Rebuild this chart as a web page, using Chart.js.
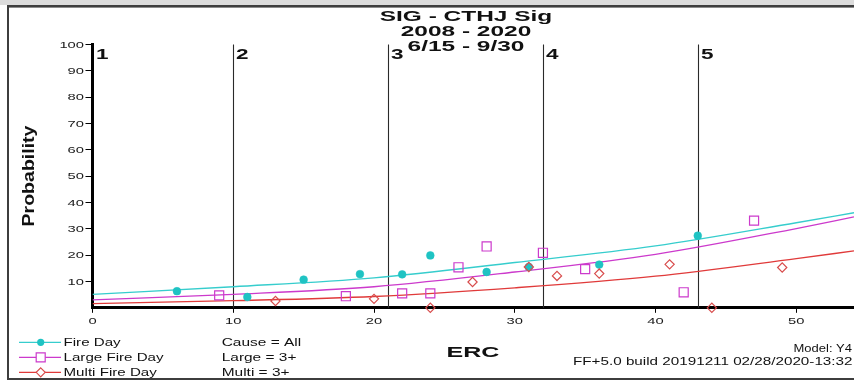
<!DOCTYPE html>
<html>
<head>
<meta charset="utf-8">
<script src="https://cdn.jsdelivr.net/npm/chart.js@4.4.1/dist/chart.umd.min.js"></script>
<style>
  html, body { margin: 0; padding: 0; background: #fff; }
  #wrap { width: 854px; height: 382px; position: relative; }
  canvas { display: block; }
</style>
</head>
<body>
<div id="wrap"><canvas id="c" width="854" height="382"></canvas></div>
<script>
// ---- chart content ----
const titleLines = ['SIG - CTHJ Sig', '2008 - 2020', '6/15 - 9/30'];
const xTitle = 'ERC';
const yTitle = 'Probability';

const ercTicks = [0, 10, 20, 30, 40, 50];
const probTicks = [10, 20, 30, 40, 50, 60, 70, 80, 90, 100];

// fire danger class breakpoints (ERC) and their labels
const classBreaks = [0, 10, 21, 32, 43];
const classLabels = ['1', '2', '3', '4', '5'];

// observed probabilities (%) per ERC value
const fireDayErc = [6, 11, 15, 19, 22, 24, 28, 31, 36, 43];
const fireDayPct = [6.3, 4.1, 10.7, 12.8, 12.7, 19.9, 13.6, 15.5, 16.4, 27.4];

const largeErc = [9, 18, 22, 24, 26, 28, 32, 35, 42, 47];
const largePct = [4.7, 4.4, 5.5, 5.5, 15.4, 23.3, 20.9, 14.7, 5.9, 33.1];

const multiErc = [13, 20, 24, 27, 31, 33, 36, 41, 44, 49];
const multiPct = [2.6, 3.4, 0, 9.8, 15.5, 12.1, 13.0, 16.5, 0, 15.3];

// fitted model curves (%)
const fitErc = [0, 10, 20, 30, 40, 50, 54.1];
const fireDayFit = [5.1, 8.0, 11.4, 17.2, 23.5, 32.3, 36.1];
const largeFit = [3.0, 5.1, 8.0, 13.6, 20.3, 30.1, 34.5];
const multiFit = [1.6, 2.7, 4.3, 7.6, 12.0, 18.7, 21.6];

const seriesNames = ['Fire Day', 'Large Fire Day', 'Multi Fire Day'];
const seriesRules = ['Cause = All', 'Large = 3+', 'Multi = 3+'];
const modelText = 'Model: Y4';
const buildText = 'FF+5.0 build 20191211 02/28/2020-13:32';

// ---- styling ----
const CYAN = '#1fc3c3';
const CYAN_LINE = '#36cdcd';
const MAGENTA = '#cc3acc';
const RED = '#e03a3a';
const RED_MARK = '#d84c4c';
const INK = '#111';
const FONT = '"Liberation Sans", Arial, sans-serif';

const pts = (xs, ys) => xs.map((x, i) => ({ x: x, y: ys[i] }));

function drawText(ctx, str, x, y, size, bold, align, sx, baseline, color) {
  ctx.save();
  ctx.font = (bold ? 'bold ' : '') + size + 'px ' + FONT;
  ctx.fillStyle = color || INK;
  ctx.textAlign = align;
  ctx.textBaseline = baseline || 'alphabetic';
  ctx.translate(x, y);
  ctx.scale(sx, 1);
  ctx.fillText(str, 0, 0);
  ctx.restore();
}

function drawMarker(ctx, kind, x, y, color) {
  ctx.save();
  ctx.lineWidth = 1.2;
  ctx.strokeStyle = color;
  ctx.fillStyle = color;
  ctx.beginPath();
  if (kind === 'circle') {
    ctx.arc(x, y, 3.6, 0, Math.PI * 2);
    ctx.fill();
  } else if (kind === 'rect') {
    ctx.fillStyle = '#fff';
    ctx.rect(x - 4.5, y - 4.5, 9, 9);
    ctx.fill();
    ctx.stroke();
  } else {
    ctx.fillStyle = '#fff';
    ctx.moveTo(x, y - 4.5);
    ctx.lineTo(x + 4.5, y);
    ctx.lineTo(x, y + 4.5);
    ctx.lineTo(x - 4.5, y);
    ctx.closePath();
    ctx.fill();
    ctx.stroke();
  }
  ctx.restore();
}

// window frame and white page
const framePlugin = {
  id: 'frame',
  beforeDraw(chart) {
    const ctx = chart.ctx;
    ctx.save();
    ctx.fillStyle = '#fff';
    ctx.fillRect(0, 0, 854, 382);
    ctx.fillStyle = '#dcdcdc';
    ctx.fillRect(0, 0, 854, 5);
    ctx.fillStyle = '#3e3e3e';
    ctx.fillRect(7, 5, 847, 2);
    ctx.fillStyle = '#8c8c8c';
    ctx.fillRect(7, 7, 847, 1);
    ctx.fillStyle = '#3e3e3e';
    ctx.fillRect(7, 5, 2, 375);
    ctx.fillRect(7, 378, 847, 2);
    ctx.restore();
  }
};

// class boundary lines with their numbers
const classPlugin = {
  id: 'classLines',
  beforeDatasetsDraw(chart) {
    const ctx = chart.ctx;
    const xs = chart.scales.x, ys = chart.scales.y;
    const top = ys.getPixelForValue(100);
    const bottom = ys.getPixelForValue(0);
    ctx.save();
    classBreaks.forEach((v, i) => {
      const px = Math.round(xs.getPixelForValue(v)) + 0.5;
      if (i > 0) {
        ctx.strokeStyle = '#2a2a2a';
        ctx.lineWidth = 1.1;
        ctx.beginPath();
        ctx.moveTo(px, top);
        ctx.lineTo(px, bottom);
        ctx.stroke();
      }
      drawText(ctx, classLabels[i], px + 2.5, 59, 15, true, 'left', 1.5);
    });
    ctx.restore();
  }
};

// titles, tick labels, legend and footer text
const textPlugin = {
  id: 'texts',
  afterDraw(chart) {
    const ctx = chart.ctx;
    const xs = chart.scales.x, ys = chart.scales.y;

    const titleBase = [21, 36, 50.5];
    titleLines.forEach((t, i) => drawText(ctx, t, 466, titleBase[i], 15, true, 'center', 1.63));

    xs.ticks.forEach(t => {
      drawText(ctx, String(t.value), xs.getPixelForValue(t.value), 324, 9.5, false, 'center', 1.55, 'alphabetic', '#1a1a1a');
    });
    ys.ticks.forEach(t => {
      drawText(ctx, String(t.value), 84, ys.getPixelForValue(t.value) + 0.5, 9.5, false, 'right', 1.55, 'middle', '#1a1a1a');
    });

    // y axis title
    ctx.save();
    ctx.font = 'bold 16px ' + FONT;
    ctx.fillStyle = INK;
    ctx.textAlign = 'center';
    ctx.textBaseline = 'alphabetic';
    ctx.translate(33.5, 176);
    ctx.rotate(-Math.PI / 2);
    ctx.scale(1.22, 1);
    ctx.fillText(yTitle, 0, 0);
    ctx.restore();

    drawText(ctx, xTitle, 473, 357.3, 15, true, 'center', 1.67);

    // legend
    const rowY = [342.3, 357.3, 372.3];
    const colors = [CYAN_LINE, MAGENTA, RED];
    const markColors = [CYAN, MAGENTA, RED_MARK];
    const kinds = ['circle', 'rect', 'rectRot'];
    rowY.forEach((y, i) => {
      ctx.save();
      ctx.strokeStyle = colors[i];
      ctx.lineWidth = 1.3;
      ctx.beginPath();
      ctx.moveTo(19, y);
      ctx.lineTo(61, y);
      ctx.stroke();
      ctx.restore();
      drawMarker(ctx, kinds[i], 40.7, y, markColors[i]);
      drawText(ctx, seriesNames[i], 63.5, y + 3.5, 10.3, false, 'left', 1.47);
      drawText(ctx, seriesRules[i], 221.7, y + 3.5, 10.3, false, 'left', 1.5);
    });

    drawText(ctx, modelText, 852, 351.7, 10, false, 'right', 1.3);
    drawText(ctx, buildText, 852.5, 365, 10.5, false, 'right', 1.45);
  }
};

const ctx = document.getElementById('c').getContext('2d');
new Chart(ctx, {
  type: 'scatter',
  data: {
    datasets: [
      {
        label: seriesNames[0] + ' fit', data: pts(fitErc, fireDayFit), showLine: true,
        borderColor: CYAN_LINE, borderWidth: 1.3, pointRadius: 0, cubicInterpolationMode: 'monotone', order: 3
      },
      {
        label: seriesNames[1] + ' fit', data: pts(fitErc, largeFit), showLine: true,
        borderColor: MAGENTA, borderWidth: 1.3, pointRadius: 0, cubicInterpolationMode: 'monotone', order: 3
      },
      {
        label: seriesNames[2] + ' fit', data: pts(fitErc, multiFit), showLine: true,
        borderColor: RED, borderWidth: 1.3, pointRadius: 0, cubicInterpolationMode: 'monotone', order: 3
      },
      {
        label: seriesNames[0], data: pts(fireDayErc, fireDayPct), showLine: false,
        pointStyle: 'circle', pointRadius: 3.9, backgroundColor: CYAN, borderColor: CYAN, borderWidth: 0.5,
        clip: false, order: 2
      },
      {
        label: seriesNames[1], data: pts(largeErc, largePct), showLine: false,
        pointStyle: 'rect', pointRadius: 6.4, backgroundColor: 'rgba(0,0,0,0)', borderColor: MAGENTA, borderWidth: 1.2,
        clip: false, order: 1
      },
      {
        label: seriesNames[2], data: pts(multiErc, multiPct), showLine: false,
        pointStyle: 'rectRot', pointRadius: 4.6, backgroundColor: 'rgba(0,0,0,0)', borderColor: RED_MARK, borderWidth: 1.2,
        clip: false, order: 0
      }
    ]
  },
  options: {
    responsive: false,
    devicePixelRatio: 1,
    animation: false,
    events: [],
    layout: { autoPadding: false, padding: { top: 44.5, left: 0, right: 0, bottom: 0 } },
    plugins: { legend: { display: false }, title: { display: false }, tooltip: { enabled: false } },
    scales: {
      x: {
        type: 'linear', min: 0, max: 54.1,
        afterFit(scale) { scale.height = 382 - 307.8; },
        afterBuildTicks(scale) { scale.ticks = ercTicks.map(v => ({ value: v })); },
        ticks: { display: false },
        grid: { display: true, drawOnChartArea: false, drawTicks: true, tickLength: 5, color: '#000', lineWidth: 1 },
        border: { display: true, color: '#000', width: 3 }
      },
      y: {
        type: 'linear', min: 0, max: 100,
        afterFit(scale) { scale.width = 92.5; },
        afterBuildTicks(scale) { scale.ticks = probTicks.map(v => ({ value: v })); },
        ticks: { display: false },
        grid: { display: true, drawOnChartArea: false, drawTicks: true, tickLength: 7, color: '#000', lineWidth: 1 },
        border: { display: true, color: '#000', width: 3 }
      }
    }
  },
  plugins: [framePlugin, classPlugin, textPlugin]
});
</script>
</body>
</html>
